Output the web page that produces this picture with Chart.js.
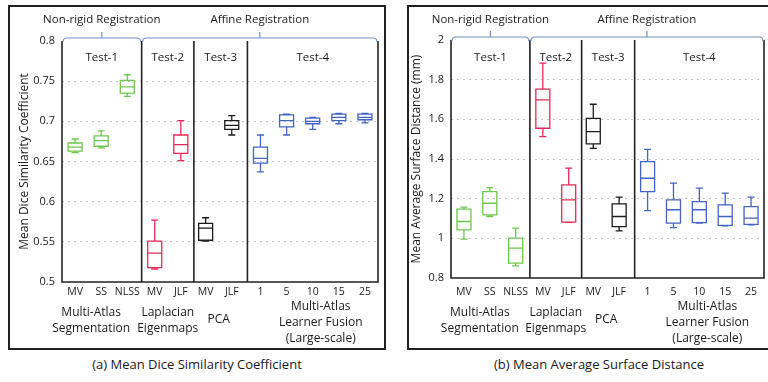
<!DOCTYPE html>
<html>
<head>
<meta charset="utf-8">
<script src="https://cdn.jsdelivr.net/npm/chart.js@4.4.1/dist/chart.umd.min.js"></script>
<style>
body { margin: 0; background: #fff; width: 768px; height: 382px; overflow: hidden; position: relative; font-family: "Open Sans", sans-serif; color: #1a1a1a; }
.panel { position: absolute; top: 5px; height: 345px; border: 2px solid #222; box-sizing: border-box; }
#pa { left: 8px; width: 378px; }
#pb { left: 407px; width: 364px; }
.cap { position: absolute; top: 355px; font-size: 13px; text-align: center; white-space: nowrap; }
</style>
</head>
<body>
<div class="panel" id="pa"><canvas id="dice" width="374" height="341"></canvas></div>
<div class="panel" id="pb"><canvas id="asd" width="360" height="341"></canvas></div>
<div class="cap" style="left:8px;width:378px">(a) Mean Dice Similarity Coefficient</div>
<div class="cap" style="left:494px;width:200px">(b) Mean Average Surface Distance</div>
<script>
// categories
const methods = ['MV', 'SS', 'NLSS', 'MV', 'JLF', 'MV', 'JLF', '1', '5', '10', '15', '25'];
const testOf = [0, 0, 0, 1, 1, 2, 2, 3, 3, 3, 3, 3];
const tests = ['Test-1', 'Test-2', 'Test-3', 'Test-4'];
const groups = [['Multi-Atlas', 'Segmentation'], ['Laplacian', 'Eigenmaps'], ['PCA'], ['Multi-Atlas', 'Learner Fusion', '(Large-scale)']];
const registrations = ['Non-rigid Registration', 'Affine Registration'];

// (a) mean dice similarity coefficient
const diceMin = [0.661, 0.667, 0.731, 0.516, 0.651, 0.551, 0.683, 0.637, 0.683, 0.690, 0.697, 0.698];
const diceQ1 = [0.663, 0.669, 0.735, 0.518, 0.660, 0.552, 0.690, 0.648, 0.693, 0.697, 0.701, 0.702];
const diceMed = [0.668, 0.676, 0.743, 0.536, 0.671, 0.567, 0.695, 0.654, 0.701, 0.700, 0.705, 0.705];
const diceQ3 = [0.673, 0.682, 0.751, 0.551, 0.683, 0.573, 0.701, 0.668, 0.708, 0.704, 0.709, 0.709];
const diceMax = [0.678, 0.688, 0.758, 0.577, 0.701, 0.580, 0.707, 0.683, 0.709, 0.705, 0.710, 0.710];

// (b) mean average surface distance (mm)
const asdMin = [0.996, 1.110, 0.861, 1.513, 1.080, 1.454, 1.038, 1.140, 1.054, 1.077, 1.063, 1.068];
const asdQ1 = [1.043, 1.118, 0.875, 1.555, 1.082, 1.476, 1.059, 1.236, 1.077, 1.079, 1.065, 1.070];
const asdMed = [1.085, 1.177, 0.951, 1.698, 1.194, 1.538, 1.110, 1.303, 1.144, 1.144, 1.110, 1.102];
const asdQ3 = [1.147, 1.236, 1.001, 1.752, 1.270, 1.605, 1.174, 1.387, 1.194, 1.185, 1.169, 1.160];
const asdMax = [1.157, 1.256, 1.051, 1.883, 1.354, 1.676, 1.208, 1.449, 1.278, 1.253, 1.228, 1.208];

// layout on the x axis
const slots = [0.5, 1.5, 2.5, 3.55, 4.55, 5.5, 6.5, 7.6, 8.6, 9.6, 10.6, 11.6];
const cuts = [3.05, 5.05, 7.1];
const xMax = 12.1;
const groupNudge = [-10, 0, 0, 8];
const colors = ['#6cc94a', '#e62a55', '#1c1c1c', '#4264c4'];
const font = '"Open Sans", sans-serif';
const ink = '#1a1a1a';

const boxPlugin = {
    id: 'boxes',
    afterDraw(chart, args, st) {
        const ctx = chart.ctx, a = chart.chartArea;
        const xs = chart.scales.x, ys = chart.scales.y;
        const X = v => xs.getPixelForValue(v), Y = v => ys.getPixelForValue(v);
        ctx.save();
        // boxes
        ctx.lineWidth = 1.3;
        slots.forEach((s, i) => {
            const x = X(s), hw = 7, cw = 3.5;
            ctx.strokeStyle = colors[testOf[i]];
            ctx.beginPath();
            ctx.moveTo(x, Y(st.max[i])); ctx.lineTo(x, Y(st.q3[i]));
            ctx.moveTo(x, Y(st.q1[i])); ctx.lineTo(x, Y(st.min[i]));
            ctx.moveTo(x - cw, Y(st.max[i])); ctx.lineTo(x + cw, Y(st.max[i]));
            ctx.moveTo(x - cw, Y(st.min[i])); ctx.lineTo(x + cw, Y(st.min[i]));
            ctx.moveTo(x - hw, Y(st.med[i])); ctx.lineTo(x + hw, Y(st.med[i]));
            ctx.rect(x - hw, Y(st.q3[i]), hw * 2, Y(st.q1[i]) - Y(st.q3[i]));
            ctx.stroke();
        });
        // frame and separators
        ctx.strokeStyle = '#222';
        ctx.lineWidth = 1.6;
        ctx.beginPath();
        ctx.moveTo(a.left, a.top); ctx.lineTo(a.left, a.bottom); ctx.lineTo(a.right, a.bottom); ctx.lineTo(a.right, a.top);
        cuts.forEach(c => { ctx.moveTo(X(c), a.top); ctx.lineTo(X(c), a.bottom); });
        ctx.stroke();
        // braces
        ctx.strokeStyle = '#7391c6';
        ctx.lineWidth = 1.2;
        [[a.left, X(cuts[0])], [X(cuts[0]), a.right]].forEach(([x1, x2], k) => {
            const y = a.top - 3, mid = (x1 + x2) / 2;
            ctx.beginPath();
            ctx.moveTo(x1 + 1, a.top + 1);
            ctx.quadraticCurveTo(x1 + 1, y, x1 + 5, y);
            ctx.lineTo(x2 - 5, y);
            ctx.quadraticCurveTo(x2 - 1, y, x2 - 1, a.top + 1);
            ctx.moveTo(mid, y); ctx.lineTo(mid, y - 6);
            ctx.stroke();
            ctx.fillStyle = ink;
            ctx.font = '11.5px ' + font;
            ctx.textAlign = 'center';
            ctx.textBaseline = 'middle';
            ctx.fillText(registrations[k], mid, 13);
        });
        // texts
        ctx.fillStyle = ink;
        ctx.textAlign = 'center';
        ctx.textBaseline = 'middle';
        const edges = [0, ...cuts, xMax];
        tests.forEach((t, k) => {
            const idx = slots.filter((s, i) => testOf[i] === k);
            const cx = (X(idx[0]) + X(idx[idx.length - 1])) / 2;
            ctx.font = '11.5px ' + font;
            ctx.fillText(t, (X(edges[k]) + X(edges[k + 1])) / 2, 51);
            ctx.font = '12px ' + font;
            const lines = groups[k];
            const y0 = lines.length === 3 ? 300 : lines.length === 2 ? 306 : 313;
            lines.forEach((l, j) => ctx.fillText(l, cx + groupNudge[k], y0 + j * 16));
        });
        ctx.font = '10.5px ' + font;
        slots.forEach((s, i) => ctx.fillText(methods[i], X(s), 285));
        ctx.restore();
    }
};

function makeChart(id, yMin, yMax, step, title, st, pad) {
    return new Chart(document.getElementById(id), {
        type: 'scatter',
        data: { datasets: [{ data: slots.map((x, i) => ({ x: x, y: st.med[i] })), pointRadius: 0 }] },
        options: {
            responsive: false,
            animation: false,
            layout: { padding: { left: pad.left, right: pad.right, top: pad.top, bottom: pad.bottom } },
            plugins: { legend: { display: false }, tooltip: { enabled: false }, boxes: st },
            scales: {
                x: { type: 'linear', min: 0, max: xMax, display: false },
                y: {
                    min: yMin, max: yMax,
                    ticks: {
                        stepSize: step, color: ink, padding: 7, font: { family: font, size: 11 },
                        callback: v => String(+v.toFixed(2))
                    },
                    grid: {
                        drawTicks: false, lineWidth: 1,
                        color: c => (c.tick && (Math.abs(c.tick.value - yMin) < 1e-6 || Math.abs(c.tick.value - yMax) < 1e-6)) ? 'rgba(0,0,0,0)' : '#c4c4c4'
                    },
                    border: { display: false, dash: [2, 4] },
                    title: { display: true, text: title, color: ink, font: { family: font, size: 12 }, padding: { top: pad.tt, bottom: 0 } },
                    afterFit: s => { s.width = pad.axis; }
                }
            }
        },
        plugins: [boxPlugin]
    });
}

makeChart('dice', 0.5, 0.8, 0.05, 'Mean Dice Similarity Coefficient',
    { min: diceMin, q1: diceQ1, med: diceMed, q3: diceQ3, max: diceMax },
    { left: 6, right: 6, top: 34, bottom: 66, axis: 46, tt: 1 });
makeChart('asd', 0.8, 2, 0.2, 'Mean Average Surface Distance (mm)',
    { min: asdMin, q1: asdQ1, med: asdMed, q3: asdQ3, max: asdMax },
    { left: 0, right: 5, top: 33, bottom: 70, axis: 42, tt: 0 });
</script>
</body>
</html>
